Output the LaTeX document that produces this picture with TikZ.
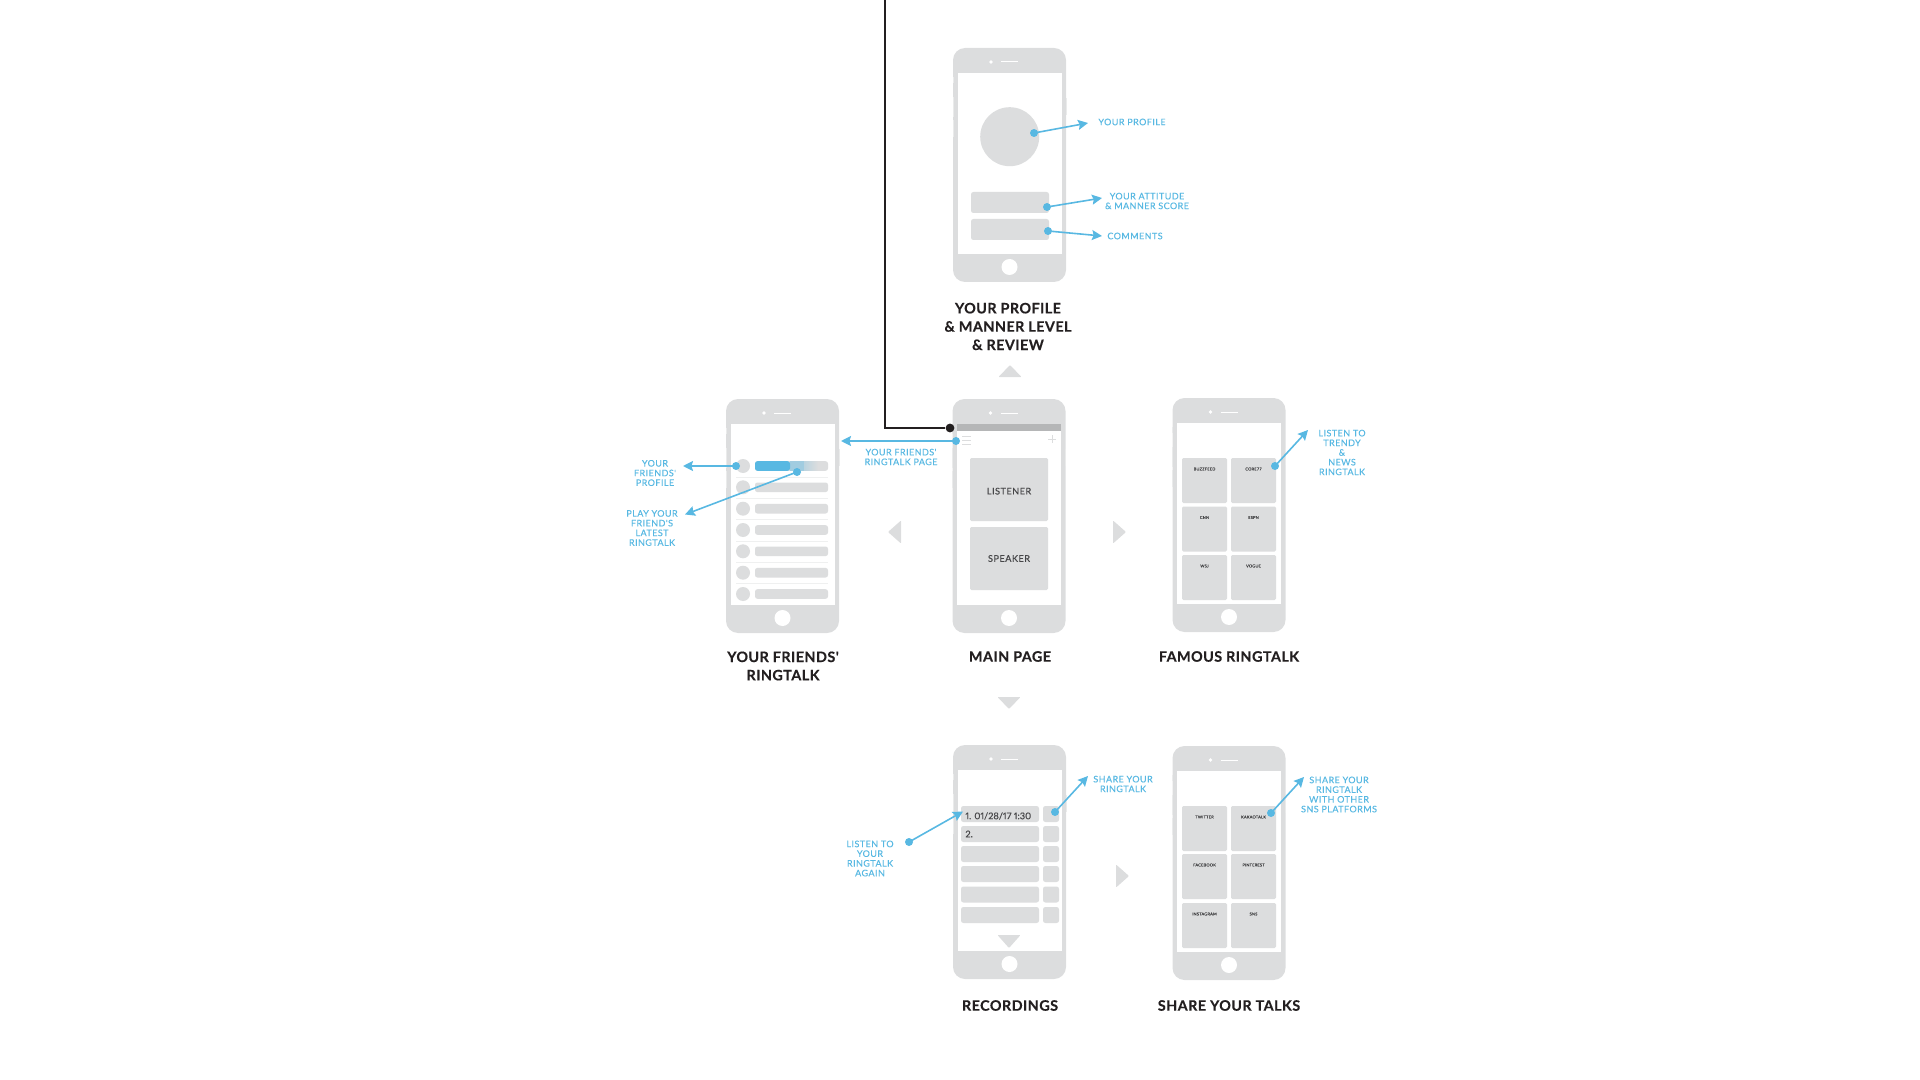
\documentclass[tikz,border=0pt]{standalone}
\usepackage{fontspec}
\setmainfont{Lato}
\newfontfamily\labelfont[LetterSpace=5,FakeBold=0.25]{Lato}
\newfontfamily\datefont[Numbers=Proportional,FakeBold=0.2]{Lato}
\newfontfamily\titlefont[LetterSpace=3,FakeBold=0.3]{Lato Bold}
\usetikzlibrary{
  arrows.meta,
  positioning
}
\definecolor{phonegray}{RGB}{220,221,222}
\definecolor{bargray}{RGB}{181,182,183}
\definecolor{callblue}{RGB}{88,184,226}
\definecolor{inkblack}{RGB}{35,31,32}
\definecolor{tilegray}{RGB}{70,70,72}
\newcommand{\phone}[3]{%
  \node[phonebody] (#1) at (#2,#3) {};
  \fill[phonegray!60] (#2-57,#3-88) rectangle (#2-56,#3-82);
  \fill[phonegray!60] (#2-57,#3-68) rectangle (#2-56,#3-48);
  \fill[phonegray!60] (#2-57,#3-45) rectangle (#2-56,#3-28);
  \fill[phonegray!60] (#2+56,#3-67) rectangle (#2+57,#3-50);
  \node[phonescreen] (#1screen) at (#2,#3-1.5) {};
  \node[phonehome] (#1home) at (#2,#3+102) {};
  \node[phonecam] (#1cam) at (#2-18.5,#3-103) {};
  \draw[white, line width=0.5pt] (#2-8.5,#3-103) -- (#2+8.5,#3-103);
}
\begin{document}
\begin{tikzpicture}[
  x=0.5pt,
  y=-0.5pt,
  phonebody/.style={
    fill=phonegray,
    rounded corners=6pt,
    minimum width=56.5pt,
    minimum height=117pt,
    inner sep=0pt
  },
  phonescreen/.style={
    fill=white,
    minimum width=52pt,
    minimum height=90.5pt,
    inner sep=0pt
  },
  phonehome/.style={
    circle,
    fill=white,
    minimum size=8pt,
    inner sep=0pt
  },
  phonecam/.style={
    circle,
    fill=white,
    minimum size=1.8pt,
    inner sep=0pt
  },
  bigtile/.style={
    fill=phonegray,
    rounded corners=0.7pt,
    minimum width=39pt,
    minimum height=31.5pt,
    inner sep=0pt,
    text=tilegray,
    font=\labelfont\fontsize{4.6}{5}\selectfont
  },
  gridtile/.style={
    fill=phonegray,
    rounded corners=0.7pt,
    minimum width=22.5pt,
    minimum height=22.5pt,
    inner sep=0pt
  },
  barbox/.style={
    fill=phonegray,
    rounded corners=1.2pt,
    inner sep=0pt
  },
  tinylabel/.style={
    text=tilegray,
    inner sep=0pt,
    font=\labelfont\fontsize{2}{2.4}\selectfont
  },
  calllabel/.style={
    text=callblue,
    align=center,
    inner sep=0pt,
    font=\labelfont\fontsize{4.5}{4.85}\selectfont
  },
  titlelabel/.style={
    text=inkblack,
    align=center,
    inner sep=0pt,
    font=\titlefont\fontsize{7.2}{9.15}\selectfont
  },
  calldot/.style={
    circle,
    fill=callblue,
    minimum size=4pt,
    inner sep=0pt
  },
  callarr/.style={
    -{Stealth[length=5pt,width=5pt,inset=0.8pt]},
    draw=callblue,
    line width=0.8pt,
    shorten <=-0.5pt
  },
  navtri/.style={
    fill=phonegray,
    rounded corners=0.4pt
  }
]
\useasboundingbox (0,0) rectangle (1920,1080);

% phones
\phone{profile}{1009.5}{165}
\phone{friends}{782.5}{516}
\phone{mainpage}{1009}{516}
\phone{famous}{1229}{515}
\phone{recordings}{1009.5}{862}
\phone{share}{1229}{863}

% profile screen
\node[circle, fill=phonegray, minimum size=29.5pt, inner sep=0pt] (avatar) at (1009.7,136.7) {};
\node[barbox, minimum width=39pt, minimum height=10.5pt] (scorebar) at (1010,202.5) {};
\node[barbox, minimum width=39pt, minimum height=10.5pt] (commentbar) at (1010,229.5) {};
\node[calldot] (avatardot) at (1034,133) {};
\node[calldot] (scoredot) at (1047,207) {};
\node[calldot] (commentdot) at (1048,231) {};
\coordinate (avatartip) at (1088,123);
\coordinate (scoretip) at (1102,198);
\coordinate (commenttip) at (1102,236);
\draw[callarr] (avatardot) -- (avatartip);
\draw[callarr] (scoredot) -- (scoretip);
\draw[callarr] (commentdot) -- (commenttip);
\node[calllabel] (avatarlabel) at (1132,122) {YOUR PROFILE};
\node[calllabel] (scorelabel) at (1147,201) {YOUR ATTITUDE\\\& MANNER SCORE};
\node[calllabel] (commentlabel) at (1135,236) {COMMENTS};

% main page
\fill[bargray] (957,424) rectangle (1061,431);
\foreach \liney in {436,440,444} {
  \draw[phonegray, line width=0.5pt] (962,\liney) -- (971,\liney);
}
\draw[phonegray, line width=0.5pt] (1048,439) -- (1056,439) (1052,435) -- (1052,443);
\node[bigtile, text height=5pt] (listener) at (1009,489.5) {LISTENER};
\node[bigtile] (speaker) at (1009,558.5) {SPEAKER};
\coordinate (wirestart) at (885,0);
\coordinate (wirebend) at (885,428);
\node[circle, fill=inkblack, minimum size=4.4pt, inner sep=0pt] (wiredot) at (950,428) {};
\draw[inkblack, line width=1pt] (wirestart) -- (wirebend) -- (wiredot);
\node[calldot] (menudot) at (956,441) {};
\coordinate (menutip) at (841,441);
\draw[callarr] (menudot) -- (menutip);
\node[calllabel] (menulabel) at (901,457) {YOUR FRIENDS'\\RINGTALK PAGE};

% friends screen
\foreach \rowi/\rowy in {1/466,2/487.3,3/508.7,4/530,5/551.3,6/572.7,7/594} {
  \node[circle, fill=phonegray, minimum size=7pt, inner sep=0pt] (face\rowi) at (743,\rowy) {};
  \node[barbox, minimum width=36.5pt, minimum height=4.8pt] (talk\rowi) at (791.5,\rowy) {};
}
\foreach \sepy in {477,498,519.5,541,562,583.5} {
  \draw[phonegray!45, line width=0.3pt] (736,\sepy) -- (828,\sepy);
}
\fill[callblue!45!phonegray] (790,461.2) rectangle (804,470.8);
\shade[left color=callblue!25!phonegray, right color=phonegray] (804,461.2) rectangle (818,470.8);
\fill[callblue, rounded corners=1.2pt] (755,461.2) rectangle (790,470.8);
\node[calldot] (facedot) at (736,466) {};
\node[calldot] (playdot) at (797,472) {};
\coordinate (facetip) at (683,466);
\coordinate (playtip) at (685,514.5);
\draw[callarr] (facedot) -- (facetip);
\draw[callarr] (playdot) -- (playtip);
\node[calllabel] (facelabel) at (655,473) {YOUR\\FRIENDS'\\PROFILE};
\node[calllabel] (playlabel) at (652,528) {PLAY YOUR\\FRIEND'S\\LATEST\\RINGTALK};

% famous screen
\foreach \tilename/\tilex/\tiley/\tiletext in {
  buzzfeed/1204.5/480.5/BUZZFEED, coresevens/1253.5/480.5/CORE77,
  cnn/1204.5/529/CNN, espn/1253.5/529/ESPN,
  wsj/1204.5/577.5/WSJ, vogue/1253.5/577.5/VOGUE} {
  \node[gridtile] (\tilename) at (\tilex,\tiley) {};
  \node[tinylabel] (\tilename label) at (\tilex,\tiley-11.5) {\tiletext};
}
\node[calldot] (famousdot) at (1275,466) {};
\coordinate (famoustip) at (1308,430);
\draw[callarr] (famousdot) -- (famoustip);
\node[calllabel] (famouslabel) at (1342,452.5) {LISTEN TO\\TRENDY\\\&\\NEWS\\RINGTALK};

% recordings screen
\foreach \rowi/\rowy in {1/814,2/834,3/854,4/874,5/894.5,6/915} {
  \node[barbox, minimum width=39pt, minimum height=8pt] (take\rowi) at (1000,\rowy) {};
  \node[barbox, minimum width=8pt, minimum height=8pt] (send\rowi) at (1051,\rowy) {};
}
\node[text=tilegray, anchor=west, inner sep=0pt, font=\datefont\fontsize{4.6}{5}\selectfont] (takeone) at (965,816) {1. 01/28/17 1:30};
\node[text=tilegray, anchor=west, inner sep=0pt, font=\datefont\fontsize{4.6}{5}\selectfont] (taketwo) at (965,834) {2.};
\fill[navtri] (997.5,935) -- (1020.5,935) -- (1009,948) -- cycle;
\node[calldot] (againdot) at (909,842) {};
\node[calldot] (senddot) at (1055,812) {};
\coordinate (againtip) at (963,811.5);
\coordinate (sendtip) at (1088,776);
\draw[callarr] (againdot) -- (againtip);
\draw[callarr] (senddot) -- (sendtip);
\node[calllabel] (againlabel) at (870,858.5) {LISTEN TO\\YOUR\\RINGTALK\\AGAIN};
\node[calllabel] (sendlabel) at (1123,784) {SHARE YOUR\\RINGTALK};

% share screen
\foreach \tilename/\tilex/\tiley/\tiletext in {
  twitter/1204.5/828.5/TWITTER, kakaotalk/1253.5/828.5/KAKAOTALK,
  facebook/1204.5/876.5/FACEBOOK, pinterest/1253.5/876.5/PINTEREST,
  instagram/1204.5/925.5/INSTAGRAM, sns/1253.5/925.5/SNS} {
  \node[gridtile] (\tilename) at (\tilex,\tiley) {};
  \node[tinylabel] (\tilename label) at (\tilex,\tiley-11.5) {\tiletext};
}
\node[calldot] (sharedot) at (1271,813) {};
\coordinate (sharetip) at (1304,777);
\draw[callarr] (sharedot) -- (sharetip);
\node[calllabel] (sharelabel) at (1339,794.5) {SHARE YOUR\\RINGTALK\\WITH OTHER\\SNS PLATFORMS};

% titles
\node[titlelabel] (profiletitle) at (1008,326.5) {YOUR PROFILE\\\& MANNER LEVEL\\\& REVIEW};
\node[titlelabel] (friendstitle) at (783,666) {YOUR FRIENDS'\\RINGTALK};
\node[titlelabel] (maintitle) at (1010,656.5) {MAIN PAGE};
\node[titlelabel] (famoustitle) at (1229,656.5) {FAMOUS RINGTALK};
\node[titlelabel] (recordingstitle) at (1010,1005.5) {RECORDINGS};
\node[titlelabel] (sharetitle) at (1229,1005.5) {SHARE YOUR TALKS};

% flow triangles
\fill[navtri] (998.5,377) -- (1010,365) -- (1021.5,377) -- cycle;
\fill[navtri] (901,520.5) -- (888,532) -- (901,543.5) -- cycle;
\fill[navtri] (1113,520.5) -- (1126,532) -- (1113,543.5) -- cycle;
\fill[navtri] (997.5,697) -- (1020.5,697) -- (1009,709) -- cycle;
\fill[navtri] (1116,864.5) -- (1129,876) -- (1116,887.5) -- cycle;

\end{tikzpicture}
\end{document}
